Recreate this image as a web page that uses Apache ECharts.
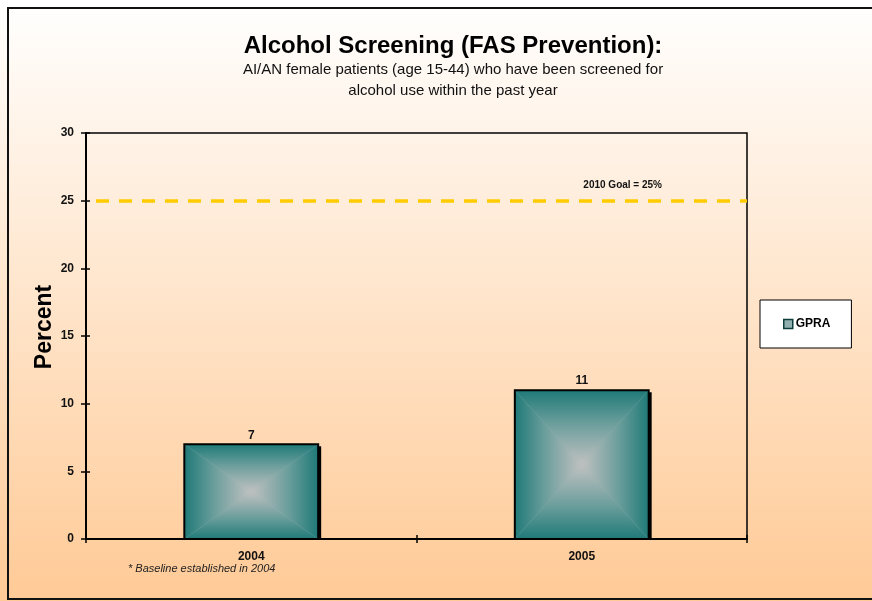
<!DOCTYPE html>
<html>
<head>
<meta charset="utf-8">
<title>Alcohol Screening (FAS Prevention)</title>
<script src="https://cdn.jsdelivr.net/npm/echarts@6/dist/echarts.min.js"></script>
<style>
  html, body { margin: 0; padding: 0; background: #fff; }
  #chart { width: 872px; height: 601px; }
</style>
</head>
<body>
<div id="chart"></div>
<script>
// Chart data
const categories = ['2004', '2005'];
const gpraValues = [7, 11];
const goalValue = 25;
const goalLabel = '2010 Goal = 25%';
const seriesName = 'GPRA';
const yAxisTitle = 'Percent';
const yMin = 0, yMax = 30, yStep = 5;

const FONT = '"Liberation Sans", Arial, sans-serif';
const EDGE = '#1f7a78';
const CENTER = '#c1c1c1';
const stops = [
  { offset: 0, color: EDGE },
  { offset: 0.45, color: '#6b9e9c' },
  { offset: 1, color: CENTER }
];

function grad(x, y, x2, y2) {
  return { type: 'linear', x: x, y: y, x2: x2, y2: y2, global: true, colorStops: stops };
}

// Bar drawn as four triangles meeting in the centre, giving a box-shaped gradient
function renderBar(params, api) {
  const xi = api.value(0);
  const v = api.value(1);
  const topPt = api.coord([xi, v]);
  const basePt = api.coord([xi, 0]);
  const bw = api.size([1, 0])[0] * 0.405;
  const l = topPt[0] - bw / 2, r = topPt[0] + bw / 2;
  const t = topPt[1], b = basePt[1];
  const cx = (l + r) / 2, cy = (t + b) / 2;
  return {
    type: 'group',
    children: [
      { type: 'rect', shape: { x: r - 1, y: t + 2, width: 4, height: b - t - 2 }, style: { fill: '#000' } },
      { type: 'rect', shape: { x: l, y: t, width: bw, height: b - t }, style: { fill: '#8fb2b0' } },
      { type: 'polygon', shape: { points: [[l, t], [r, t], [cx, cy]] }, style: { fill: grad(cx, t, cx, cy) } },
      { type: 'polygon', shape: { points: [[l, b], [r, b], [cx, cy]] }, style: { fill: grad(cx, b, cx, cy) } },
      { type: 'polygon', shape: { points: [[l, t], [l, b], [cx, cy]] }, style: { fill: grad(l, cy, cx, cy) } },
      { type: 'polygon', shape: { points: [[r, t], [r, b], [cx, cy]] }, style: { fill: grad(r, cy, cx, cy) } },
      { type: 'rect', shape: { x: l, y: t, width: bw, height: b - t }, style: { fill: null, stroke: '#000', lineWidth: 2 } },
      { type: 'text', x: cx, y: t - 3, style: { text: String(v), align: 'center', verticalAlign: 'bottom', font: 'bold 12px ' + FONT, fill: '#111' } }
    ]
  };
}

const chart = echarts.init(document.getElementById('chart'), null, { renderer: 'canvas' });

chart.setOption({
  animation: false,
  backgroundColor: {
    type: 'linear', x: 0, y: 0, x2: 0, y2: 1,
    colorStops: [{ offset: 0, color: '#ffffff' }, { offset: 1, color: '#ffca96' }]
  },
  textStyle: { fontFamily: FONT },
  title: {
    text: 'Alcohol Screening (FAS Prevention):',
    subtext: 'AI/AN female patients (age 15-44) who have been screened for\nalcohol use within the past year',
    left: 448,
    top: 29,
    textAlign: 'center',
    itemGap: 1,
    textStyle: { fontFamily: FONT, fontSize: 24, fontWeight: 'bold', color: '#000' },
    subtextStyle: { fontFamily: FONT, fontSize: 15, color: '#111', lineHeight: 21 }
  },
  legend: {
    left: 760,
    top: 300,
    orient: 'vertical',
    backgroundColor: '#ffffff',
    borderColor: '#000',
    borderWidth: 1,
    padding: [18, 21, 18, 23],
    itemWidth: 9,
    itemHeight: 9,
    itemGap: 4,
    textStyle: { fontFamily: FONT, fontSize: 12, fontWeight: 'bold', color: '#000', padding: [0, 0, 0, -2] },
    data: [{ name: seriesName, icon: 'rect', itemStyle: { color: '#8fb0ae', borderColor: '#0e3e3c', borderWidth: 1.5 } }]
  },
  grid: {
    left: 86, right: 125, top: 133, bottom: 62,
    show: true, borderColor: '#000', borderWidth: 1.5, backgroundColor: 'transparent'
  },
  xAxis: [
    {
      type: 'category',
      data: categories,
      axisLine: { lineStyle: { color: '#000', width: 2 } },
      axisTick: { show: true, length: 4, lineStyle: { color: '#000', width: 1.5 } },
      axisLabel: { fontFamily: FONT, fontSize: 12, fontWeight: 'bold', color: '#111', margin: 12 },
      splitLine: { show: false }
    },
    {
      type: 'category',
      position: 'bottom',
      data: categories,
      axisLine: { show: false },
      axisTick: { show: true, inside: true, length: 4, lineStyle: { color: '#000', width: 1.5 } },
      axisLabel: { show: false },
      splitLine: { show: false }
    }
  ],
  yAxis: [
    {
      type: 'value',
      min: yMin, max: yMax, interval: yStep,
      axisLine: { show: true, lineStyle: { color: '#000', width: 2 } },
      axisTick: { show: true, length: 5, lineStyle: { color: '#000', width: 1.5 } },
      axisLabel: { fontFamily: FONT, fontSize: 12, fontWeight: 'bold', color: '#111', margin: 12 },
      splitLine: { show: false }
    },
    {
      type: 'value',
      position: 'left',
      min: yMin, max: yMax, interval: yStep,
      axisLine: { show: false },
      axisTick: { show: true, inside: true, length: 4, lineStyle: { color: '#000', width: 1.5 } },
      axisLabel: { show: false },
      splitLine: { show: false }
    }
  ],
  series: [
    {
      name: seriesName,
      type: 'custom',
      renderItem: renderBar,
      encode: { x: 0, y: 1 },
      data: categories.map((c, i) => [i, gpraValues[i]]),
      z: 3
    },
    {
      name: 'goal',
      type: 'line',
      data: [],
      markLine: {
        silent: true,
        symbol: 'none',
        data: [{ yAxis: goalValue }],
        lineStyle: { color: '#ffcc00', width: 3.5, type: [13, 10], dashOffset: 13 },
        label: {
          show: true,
          formatter: goalLabel,
          position: 'insideEndTop',
          distance: [85, 10],
          fontFamily: FONT,
          fontSize: 10,
          fontWeight: 'bold',
          color: '#111'
        }
      }
    }
  ],
  graphic: [
    {
      type: 'rect',
      shape: { x: 8, y: 8, width: 880, height: 591 },
      style: { fill: null, stroke: '#111', lineWidth: 2 },
      silent: true
    },
    {
      type: 'text',
      x: 45,
      y: 327,
      rotation: Math.PI / 2,
      style: { text: yAxisTitle, align: 'center', verticalAlign: 'middle', font: 'bold 23px ' + FONT, fill: '#000' }
    },
    {
      type: 'text',
      left: 128,
      top: 563,
      style: { text: '* Baseline established in 2004', font: 'italic 11px ' + FONT, fill: '#222' }
    }
  ]
});
</script>
</body>
</html>
